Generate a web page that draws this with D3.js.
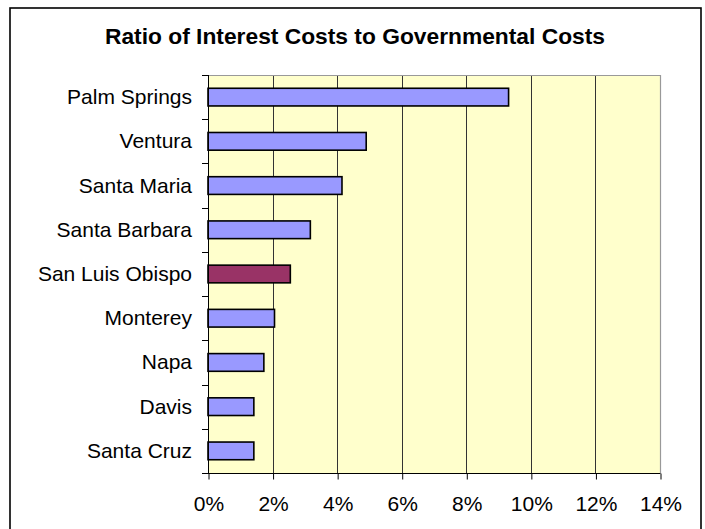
<!DOCTYPE html>
<html>
<head>
<meta charset="utf-8">
<script src="https://cdn.jsdelivr.net/npm/d3@7"></script>
<style>
  html, body { margin: 0; padding: 0; background: #fff; }
  svg { display: block; }
</style>
</head>
<body>
<svg id="chart" width="705" height="529"></svg>
<script>
// Cities, top to bottom
const cities = ["Palm Springs", "Ventura", "Santa Maria", "Santa Barbara", "San Luis Obispo",
                "Monterey", "Napa", "Davis", "Santa Cruz"];
// Interest costs as a share of governmental costs (%)
const ratios = [9.31, 4.90, 4.15, 3.17, 2.55, 2.06, 1.73, 1.42, 1.42];
// City that is highlighted
const highlight = ["San Luis Obispo"];
// Axis ticks (%)
const tickValues = [0, 2, 4, 6, 8, 10, 12, 14];

const svg = d3.select("#chart");
const font = "Arial, 'Liberation Sans', sans-serif";

// Outer frame
svg.append("rect")
  .attr("x", 10).attr("y", 8)
  .attr("width", 691).attr("height", 530)
  .attr("fill", "#fff").attr("stroke", "#000").attr("stroke-width", 1.6);

// Title
svg.append("text")
  .attr("x", 355).attr("y", 44)
  .attr("text-anchor", "middle")
  .attr("font-family", font)
  .attr("font-weight", "bold")
  .attr("font-size", 22)
  .attr("textLength", 500)
  .attr("lengthAdjust", "spacingAndGlyphs")
  .text("Ratio of Interest Costs to Governmental Costs");

const plotL = 208, plotR = 660, plotT = 75, plotB = 473;

const x = d3.scaleLinear().domain([0, 14]).range([plotL, plotR]);
const y = d3.scaleBand().domain(cities).range([plotT, plotB]).paddingInner(0.6).paddingOuter(0.3);
const yBand = d3.scaleBand().domain(cities).range([plotT, plotB]);

// Plot area
svg.append("rect")
  .attr("x", plotL).attr("y", plotT)
  .attr("width", plotR - plotL).attr("height", plotB - plotT)
  .attr("fill", "#FFFFCC");

// Vertical gridlines
svg.append("g")
  .selectAll("line")
  .data(tickValues.filter(d => d > 0 && d < 14))
  .join("line")
  .attr("x1", d => Math.round(x(d)) + 0.5).attr("x2", d => Math.round(x(d)) + 0.5)
  .attr("y1", plotT).attr("y2", plotB)
  .attr("stroke", "#333").attr("stroke-width", 1);

// Plot border (top and right)
svg.append("path")
  .attr("d", `M${plotL},${plotT + 0.5}H${plotR + 0.5}V${plotB}`)
  .attr("fill", "none").attr("stroke", "#999").attr("stroke-width", 1.2);

// Bars
svg.append("g")
  .selectAll("rect")
  .data(cities.map((c, i) => ({ city: c, value: ratios[i] })))
  .join("rect")
  .attr("x", x(0))
  .attr("y", d => y(d.city))
  .attr("width", d => x(d.value) - x(0))
  .attr("height", y.bandwidth())
  .attr("fill", d => highlight.includes(d.city) ? "#993366" : "#9999FF")
  .attr("stroke", "#000").attr("stroke-width", 1.6);

// Y axis: boundaries between categories, labels centred in each band
const yAxisG = svg.append("g");
yAxisG.append("line")
  .attr("x1", plotL + 0.5).attr("x2", plotL + 0.5)
  .attr("y1", plotT).attr("y2", plotB + 0.5)
  .attr("stroke", "#000");
const boundaries = cities.map(c => yBand(c)).concat([plotB]);
yAxisG.selectAll("line.tick")
  .data(boundaries)
  .join("line")
  .attr("class", "tick")
  .attr("x1", plotL - 6).attr("x2", plotL)
  .attr("y1", d => Math.round(d) + 0.5).attr("y2", d => Math.round(d) + 0.5)
  .attr("stroke", "#000");
yAxisG.selectAll("text")
  .data(cities)
  .join("text")
  .attr("x", 192)
  .attr("y", d => yBand(d) + yBand.bandwidth() / 2 + 7)
  .attr("text-anchor", "end")
  .attr("font-family", font)
  .attr("font-size", 21)
  .attr("fill", "#000")
  .text(d => d);

// X axis
const xAxis = d3.axisBottom(x)
  .tickValues(tickValues)
  .tickSize(6)
  .tickPadding(17)
  .tickFormat(d => d + "%");
const xAxisG = svg.append("g")
  .attr("transform", `translate(0.5,${plotB + 0.5})`)
  .call(xAxis);
xAxisG.select(".domain").attr("stroke", "#000").attr("d", `M${plotL - 0.5},0H${plotR}`);
xAxisG.selectAll(".tick line").attr("stroke", "#000");
xAxisG.selectAll(".tick text")
  .attr("font-family", font)
  .attr("font-size", 21)
  .attr("fill", "#000");
</script>
</body>
</html>
